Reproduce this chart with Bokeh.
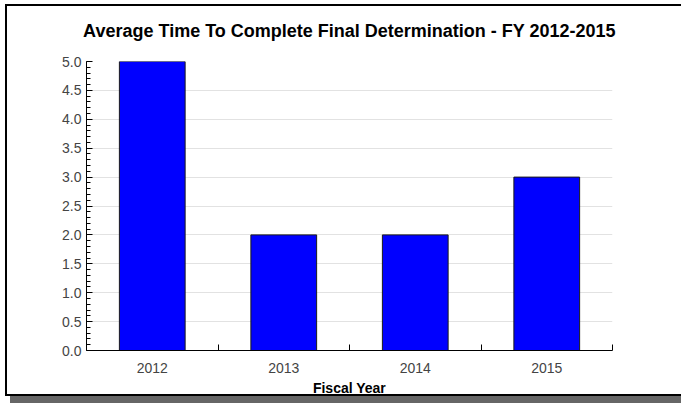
from bokeh.plotting import figure
from bokeh.models import FixedTicker, Range1d, NumeralTickFormatter, Title
from bokeh.embed import file_html
from bokeh.resources import INLINE

# ---- data ----
years = ["2012", "2013", "2014", "2015"]
avg_time = [5.0, 2.0, 2.0, 3.0]
y_major = [0.0, 0.5, 1.0, 1.5, 2.0, 2.5, 3.0, 3.5, 4.0, 4.5, 5.0]
title_text = "Average Time To Complete Final Determination - FY 2012-2015"
x_label = "Fiscal Year"

FONT = "Liberation Sans"

n = len(years)
x_pos = [i + 0.5 for i in range(n)]
y_minor = [round(i * 0.1, 1) for i in range(int(round(y_major[-1] * 10)) + 1)]

p = figure(width=676, height=392, output_backend="svg", toolbar_location=None,
           title=None,
           x_range=Range1d(0, n), y_range=Range1d(y_major[0], y_major[-1]),
           min_border_left=79, min_border_right=71, min_border_top=55,
           min_border_bottom=44)

p.styles = {"margin-left": "5px", "margin-top": "4px",
            "border-left": "2px solid #000", "border-top": "2px solid #000",
            "border-bottom": "2px solid #000", "border-right": "none",
            "box-shadow": "5px 8px 0 0 #666666", "background": "#ffffff"}

# spacer between title and plot area, then the title itself
p.add_layout(Title(text=" ", text_font_size="12px", standoff=0), "above")
p.add_layout(Title(text=title_text, align="center", text_font=FONT,
                   text_font_size="18px", text_font_style="bold",
                   text_color="#000000"), "above")

p.vbar(x=x_pos, top=avg_time, width=0.5, fill_color="#0000ff",
       line_color="#1a1a1a", line_width=1)

p.outline_line_color = None
p.background_fill_color = "#ffffff"
p.border_fill_color = "#ffffff"

# y axis
ya = p.yaxis[0]
ya.ticker = FixedTicker(ticks=y_major, minor_ticks=y_minor)
ya.formatter = NumeralTickFormatter(format="0.0")
ya.major_tick_in = 6
ya.major_tick_out = 0
ya.minor_tick_in = 4
ya.minor_tick_out = 0
ya.axis_line_color = "#000000"
ya.major_tick_line_color = "#000000"
ya.minor_tick_line_color = "#000000"
ya.major_label_text_font = FONT
ya.major_label_text_font_size = "14px"
ya.major_label_text_color = "#444444"
ya.major_label_standoff = 5

p.ygrid.ticker = FixedTicker(ticks=y_major)
p.ygrid.grid_line_color = "#e2e2e2"
p.xgrid.grid_line_color = None

# x axis
xa = p.xaxis[0]
xa.ticker = FixedTicker(ticks=x_pos, minor_ticks=list(range(1, n + 1)))
xa.major_label_overrides = {x: y for x, y in zip(x_pos, years)}
xa.major_tick_line_color = None
xa.minor_tick_in = 6
xa.minor_tick_out = 0
xa.minor_tick_line_color = "#000000"
xa.axis_line_color = "#000000"
xa.major_label_text_font = FONT
xa.major_label_text_font_size = "14px"
xa.major_label_text_color = "#444444"
xa.major_label_standoff = 6
xa.axis_label = x_label
xa.axis_label_text_font = FONT
xa.axis_label_text_font_size = "14px"
xa.axis_label_text_font_style = "bold"
xa.axis_label_text_color = "#000000"
xa.axis_label_standoff = 4

open("out.html", "w").write(file_html(p, INLINE))
